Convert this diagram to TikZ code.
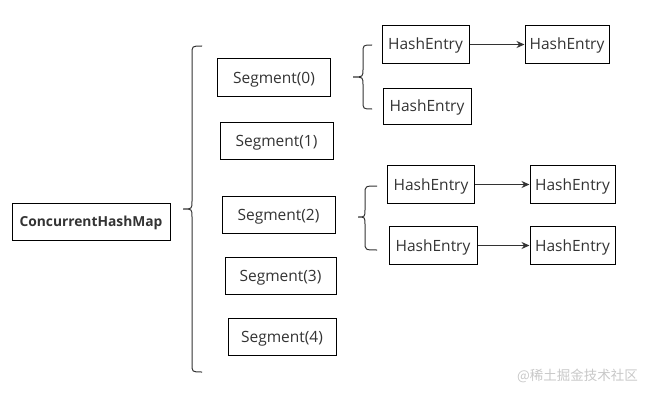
\documentclass[tikz,border=0pt]{standalone}
\usepackage{fontspec}
\setmainfont{Open Sans}
\newfontfamily\cjk{Noto Sans CJK SC}
\usepackage{xcolor}
\usetikzlibrary{arrows.meta}
\definecolor{ink}{RGB}{51,51,51}
\definecolor{wm}{RGB}{200,200,200}
\tikzset{
  box/.style={draw=black,line width=1pt,inner sep=0pt,text=ink,
    text height=11pt,text depth=0pt,font=\fontsize{15.5}{18}\selectfont},
  segbox/.style={box,minimum width=113pt,minimum height=37pt},
  entrybox/.style={box,minimum width=87pt,minimum height=38pt},
  link/.style={-{Stealth[length=8pt,width=7pt]},line width=1pt,black!80},
  curl/.style={line width=1pt,ink}
}
% left-facing curly bracket: #1 tip x, #2 tip y, #3 spine x, #4 top y, #5 bottom y, #6 end x
\newcommand{\curlybrace}[6]{%
  \draw[curl] (#6,#4) .. controls (#3,#4) .. (#3,#4+8) -- (#3,#2-8)
    .. controls (#3,#2) .. (#1,#2) .. controls (#3,#2) .. (#3,#2+8)
    -- (#3,#5-8) .. controls (#3,#5) .. (#6,#5);}

\begin{document}
\begin{tikzpicture}[x=1pt,y=-1pt]
\useasboundingbox (0,0) rectangle (650,396);
% map
\node[box,minimum width=158pt,minimum height=37pt,text height=10pt,
  font=\bfseries\fontsize{13.8}{16}\selectfont] (chm) at (91,221.5) {ConcurrentHashMap};
\curlybrace{183}{209}{192}{46}{372}{202}
% segments
\node[segbox] (seg0) at (274,77.5) {Segment(0)};
\node[segbox] (seg1) at (276.5,141) {Segment(1)};
\node[segbox] (seg2) at (278.5,215) {Segment(2)};
\node[segbox,minimum width=111pt] (seg3) at (280.5,275.5) {Segment(3)};
\node[segbox,minimum width=108pt] (seg4) at (282,336.5) {Segment(4)};
% entries of segment 0
\curlybrace{353}{77}{363}{45}{109}{372}
\node[entrybox] (e00) at (425.5,44.5) {HashEntry};
\node[entrybox,minimum width=84pt] (e01) at (567,44.5) {HashEntry};
\node[entrybox,minimum width=88pt,minimum height=36pt] (e02) at (427,106) {HashEntry};
\draw[link] (e00) -- (e01);
% entries of segment 2
\curlybrace{358}{217}{365}{186}{250}{377}
\node[entrybox] (e20) at (431,184.5) {HashEntry};
\node[entrybox,minimum width=85pt] (e21) at (572.5,184.5) {HashEntry};
\node[entrybox,minimum width=88pt] (e22) at (433,245.5) {HashEntry};
\node[entrybox,minimum width=85pt] (e23) at (572.5,245.5) {HashEntry};
\draw[link] (e20) -- (e21);
\draw[link] (e22) -- (e23);
% watermark
\node[text=wm,font=\cjk\fontsize{13.5}{15}\selectfont,anchor=east,inner sep=0pt] (mark) at (638,376) {@稀土掘金技术社区};
\end{tikzpicture}
\end{document}
